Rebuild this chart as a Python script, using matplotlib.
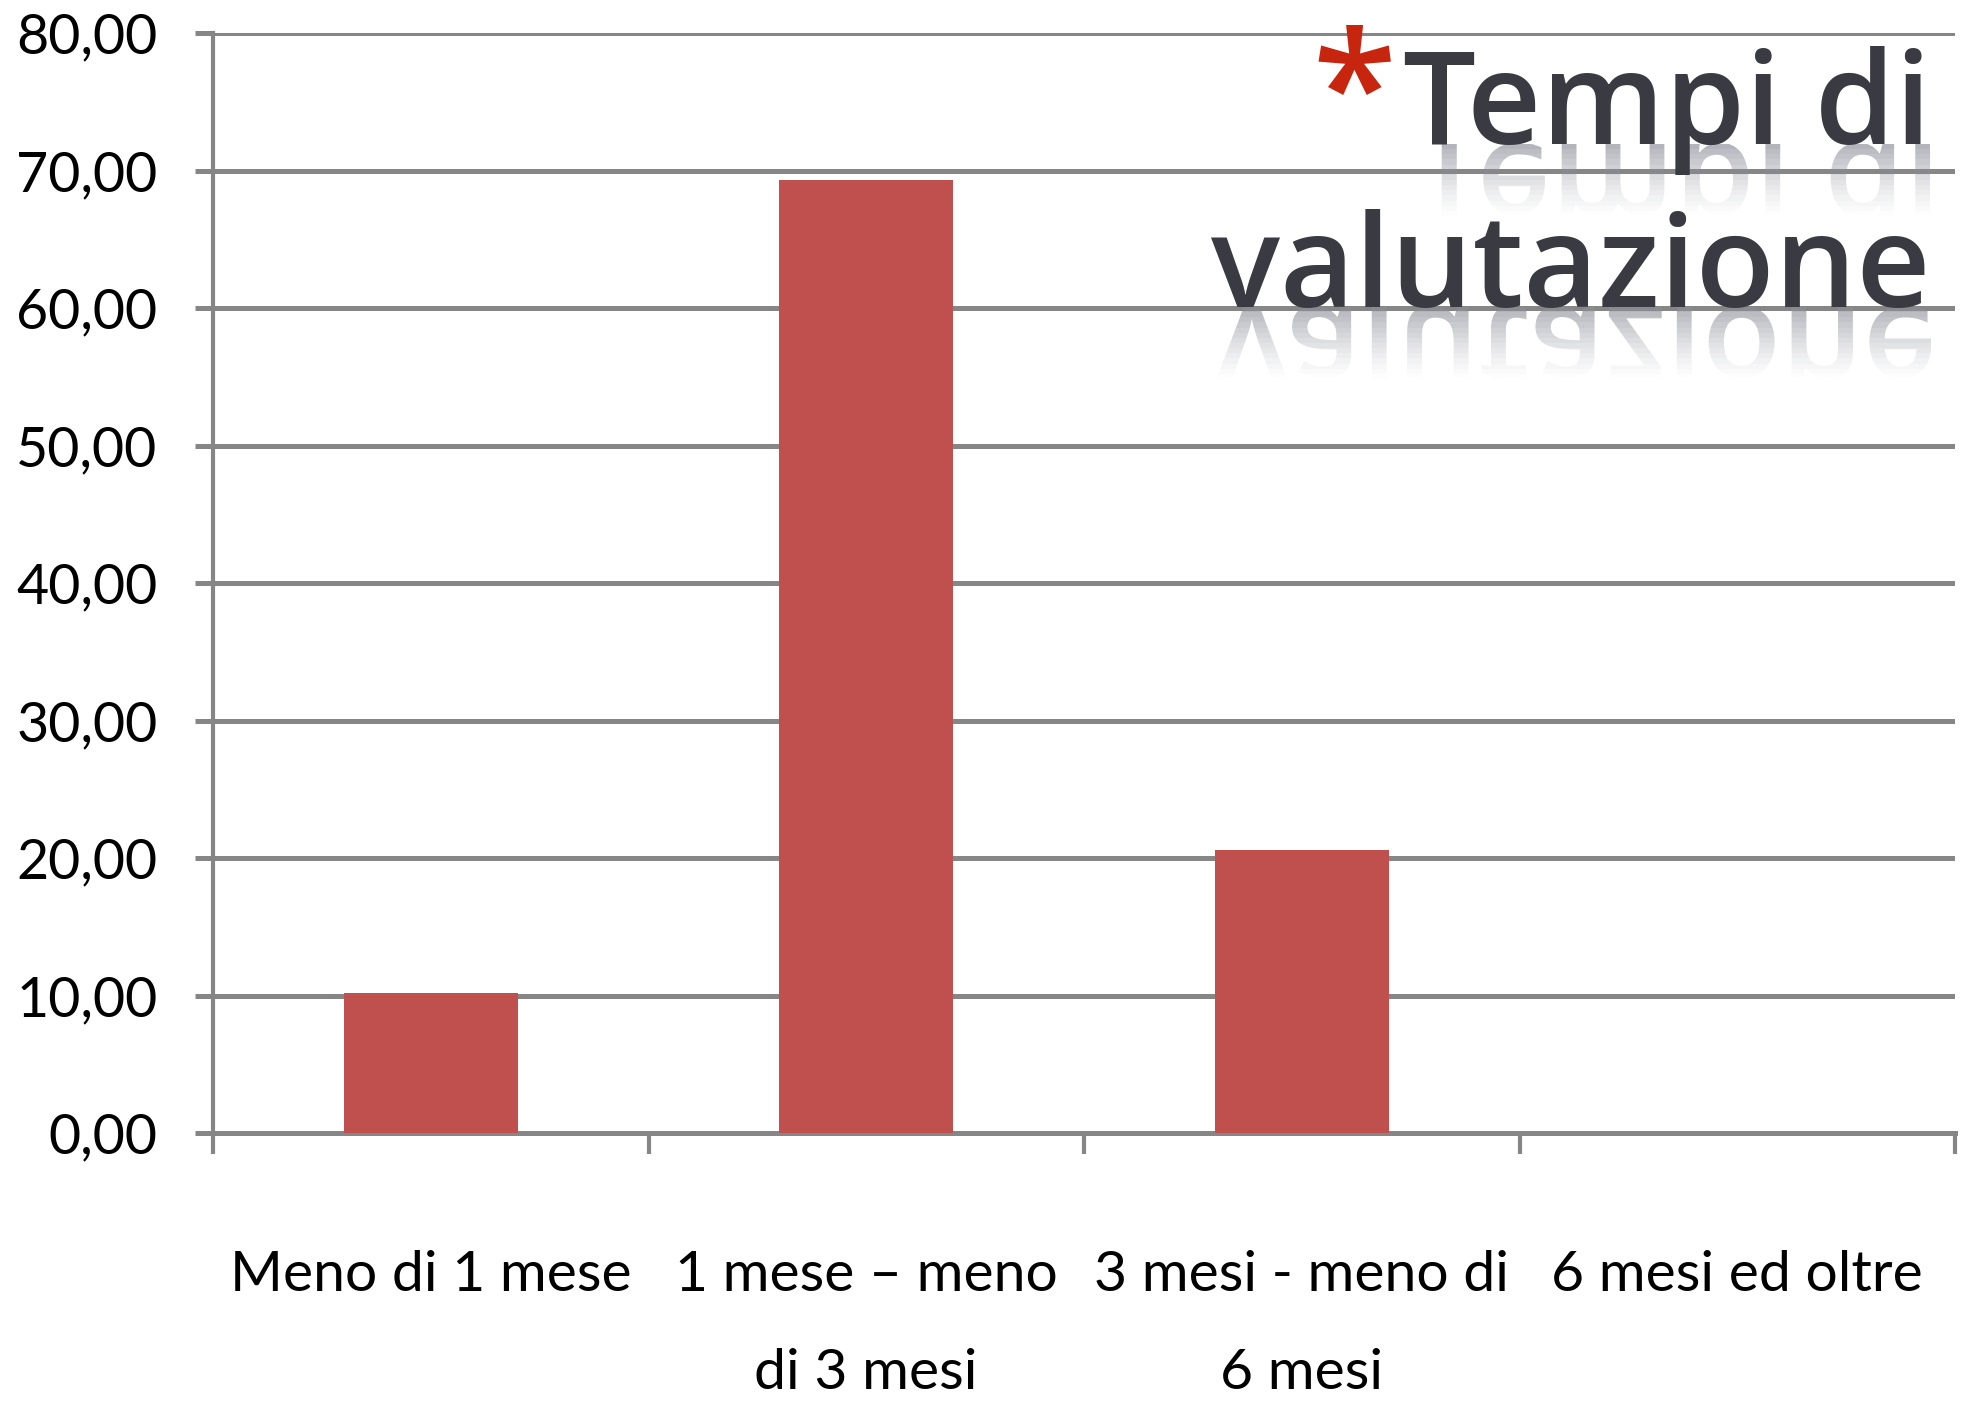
import numpy as np
import matplotlib
matplotlib.use('Agg')
import matplotlib.pyplot as plt
from matplotlib.textpath import TextPath
from matplotlib.patches import PathPatch
from matplotlib.font_manager import FontProperties
from matplotlib.transforms import Affine2D, Bbox

# dati
categorie = ['Meno di 1 mese', '1 mese – meno\ndi 3 mesi', '3 mesi - meno di\n6 mesi', '6 mesi ed oltre']
valori = [10.2, 69.3, 20.6, 0.0]
tick_y = np.arange(0, 81, 10)
etichette_y = ['%d,00' % v for v in tick_y]

W, H, DPI = 1966, 1414, 100
grigio = '#868686'
rosso = '#c0504d'
font_assi = ['Lato', 'DejaVu Sans']

fig = plt.figure(figsize=(W / DPI, H / DPI), dpi=DPI)
ax = fig.add_axes([213 / W, 1 - 1133 / H, (1955 - 213) / W, (1133 - 33) / H])

x = np.arange(len(categorie))
ax.bar(x, valori, width=0.4, color=rosso, zorder=3)

ax.set_xlim(-0.5, len(categorie) - 0.5)
ax.set_ylim(0, 80)
ax.set_yticks(tick_y)
ax.set_yticklabels(etichette_y, family=font_assi, fontsize=40)
ax.yaxis.grid(True, color=grigio, linewidth=3.6)
ax.set_axisbelow(True)

# tacche ai bordi delle categorie, etichette al centro
ax.set_xticks(np.arange(len(categorie) + 1) - 0.5)
ax.set_xticklabels([])
ax.set_xticks(x, minor=True)
ax.set_xticklabels(categorie, minor=True, family=font_assi, fontsize=41, linespacing=2.15)
ax.tick_params(axis='x', which='major', length=15, width=3, color=grigio, direction='out')
ax.tick_params(axis='x', which='minor', length=0, pad=84)
ax.tick_params(axis='y', length=13, width=3.6, color=grigio, pad=27)

for s in ['top', 'right']:
    ax.spines[s].set_visible(False)
ax.spines['left'].set_color(grigio)
ax.spines['left'].set_linewidth(3)
ax.spines['bottom'].set_color(grigio)
ax.spines['bottom'].set_linewidth(3.6)

# titolo con riflesso
fp_titolo = FontProperties(family='Open Sans', weight='semibold')
size_px = 129
size_pt = size_px * 72 / DPI
righe = [('Tempi di', 144), ('valutazione', 307)]
x_dx = 1931

for testo, y_base in righe:
    fig.text(x_dx / W, 1 - y_base / H, testo, ha='right', va='baseline',
             fontproperties=fp_titolo, fontsize=size_pt, color='#393a42', zorder=5)
    tp = TextPath((0, 0), testo, size=size_px, prop=fp_titolo)
    bb = tp.get_extents()
    yd = H - y_base
    tr = Affine2D().translate(-bb.x1, 0).scale(1, -1).translate(x_dx, yd)
    n = 14
    alto = 72
    for i in range(n):
        p = PathPatch(tp, transform=tr, fc='#8c8e98', ec='none', alpha=0.65 * (1 - i / n) ** 1.4, zorder=4)
        p.set_clip_box(Bbox([[0, yd - (i + 1) * alto / n], [W, yd - i * alto / n]]))
        p.set_clip_on(True)
        fig.add_artist(p)

fig.text(1354 / W, 1 - 24 / H, '*', ha='center', va='top', fontsize=110,
         color='#c8250f', family='Open Sans', weight='semibold')

fig.savefig('out.png', dpi=DPI)
